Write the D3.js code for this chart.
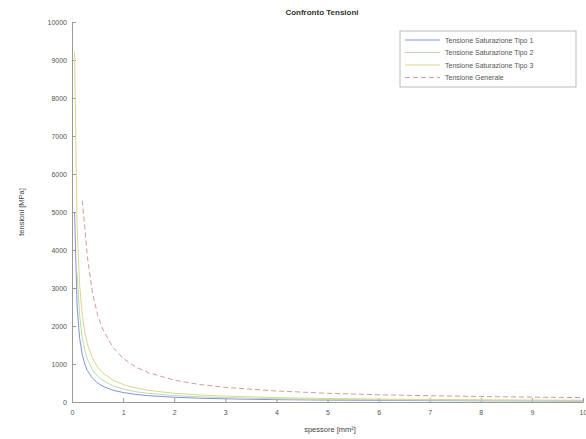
<!DOCTYPE html>
<html>
<head>
<meta charset="utf-8">
<script src="https://cdn.jsdelivr.net/npm/d3@7"></script>
<style>
  body { margin: 0; background: #fff; }
  svg { display: block; font-family: "Liberation Sans", Arial, sans-serif; }
</style>
</head>
<body>
<svg id="chart" width="586" height="439"></svg>
<script>
// values
const xs = [0.05, 0.1, 0.15, 0.2, 0.25, 0.3, 0.4, 0.5, 0.6, 0.8, 1, 1.25, 1.5, 2, 2.5, 3, 4, 5, 6, 7, 8, 9, 10]
const tipo1 = [5000, 2500, 1670, 1250, 1000, 830, 625, 500, 415, 310, 250, 200, 165, 125, 100, 83, 62, 50, 42, 36, 31, 28, 25]
const tipo2 = [null, 3400, 2270, 1700, 1360, 1130, 850, 680, 570, 425, 340, 270, 225, 170, 135, 113, 85, 68, 57, 49, 43, 38, 34]
const tipo3 = [9200, 4600, 3070, 2300, 1840, 1530, 1150, 920, 770, 575, 460, 370, 305, 230, 185, 155, 115, 92, 77, 66, 58, 51, 46]
const generale = [null, null, null, 5300, 4600, 3830, 2880, 2300, 1920, 1440, 1150, 920, 770, 575, 460, 385, 290, 230, 190, 165, 145, 128, 115]

const seriesNames = ["Tensione Saturazione Tipo 1", "Tensione Saturazione Tipo 2", "Tensione Saturazione Tipo 3", "Tensione Generale"]
const seriesValues = [tipo1, tipo2, tipo3, generale]
const seriesColors = ["#8593d6", "#b9dcb4", "#ddd58c", "#d79a9a"]
const seriesDash = [null, null, null, "5,3"]

const xTicks = [0, 1, 2, 3, 4, 5, 6, 7, 8, 9, 10]
const yTicks = [0, 1000, 2000, 3000, 4000, 5000, 6000, 7000, 8000, 9000, 10000]

const margin = { top: 22, right: 3, bottom: 37, left: 72 }
const width = 586, height = 439

const svg = d3.select("#chart")

const x = d3.scaleLinear().domain([0, 10]).range([margin.left, width - margin.right])
const y = d3.scaleLinear().domain([0, 10000]).range([height - margin.bottom, margin.top])

// axes (matlab style, ticks inward)
svg.append("g")
  .attr("transform", `translate(0,${height - margin.bottom})`)
  .call(d3.axisBottom(x).tickValues(xTicks).tickFormat(d3.format("d")).tickSizeInner(-4).tickSizeOuter(0).tickPadding(8))
svg.append("g")
  .attr("transform", `translate(${margin.left},0)`)
  .call(d3.axisLeft(y).tickValues(yTicks).tickFormat(d3.format("d")).tickSizeInner(-4).tickSizeOuter(0).tickPadding(5))

svg.selectAll(".domain, .tick line").attr("stroke", "#9a9a9a")
svg.selectAll(".tick text").attr("fill", "#555").style("font-size", "7px")

// lines
const line = d3.line()
  .defined(d => d[1] != null)
  .x(d => x(d[0]))
  .y(d => y(d[1]))

seriesValues.forEach((vals, i) => {
  svg.append("path")
    .datum(xs.map((v, j) => [v, vals[j]]))
    .attr("fill", "none")
    .attr("stroke", seriesColors[i])
    .attr("stroke-width", 1)
    .attr("stroke-dasharray", seriesDash[i])
    .attr("d", line)
})

// title + labels
svg.append("text")
  .attr("x", 322).attr("y", 15)
  .attr("text-anchor", "middle")
  .style("font-size", "8px").style("font-weight", "bold")
  .attr("fill", "#333")
  .text("Confronto Tensioni")

svg.append("text")
  .attr("x", 330).attr("y", 432)
  .attr("text-anchor", "middle")
  .style("font-size", "7.5px")
  .attr("fill", "#444")
  .text("spessore [mm²]")

svg.append("text")
  .attr("transform", "translate(24,212) rotate(-90)")
  .attr("text-anchor", "middle")
  .style("font-size", "7.5px")
  .attr("fill", "#444")
  .text("tensioni [MPa]")

// legend
const lg = svg.append("g").attr("transform", "translate(400,31)")
lg.append("rect")
  .attr("width", 176).attr("height", 56)
  .attr("fill", "#fff").attr("stroke", "#aaa").attr("stroke-width", 0.8)
seriesNames.forEach((name, i) => {
  const yy = 9 + i * 12.5
  lg.append("line")
    .attr("x1", 5).attr("x2", 40).attr("y1", yy).attr("y2", yy)
    .attr("stroke", seriesColors[i])
    .attr("stroke-dasharray", seriesDash[i])
  lg.append("text")
    .attr("x", 45).attr("y", yy + 2.5)
    .style("font-size", "7px")
    .attr("fill", "#555")
    .text(name)
})
</script>
</body>
</html>
